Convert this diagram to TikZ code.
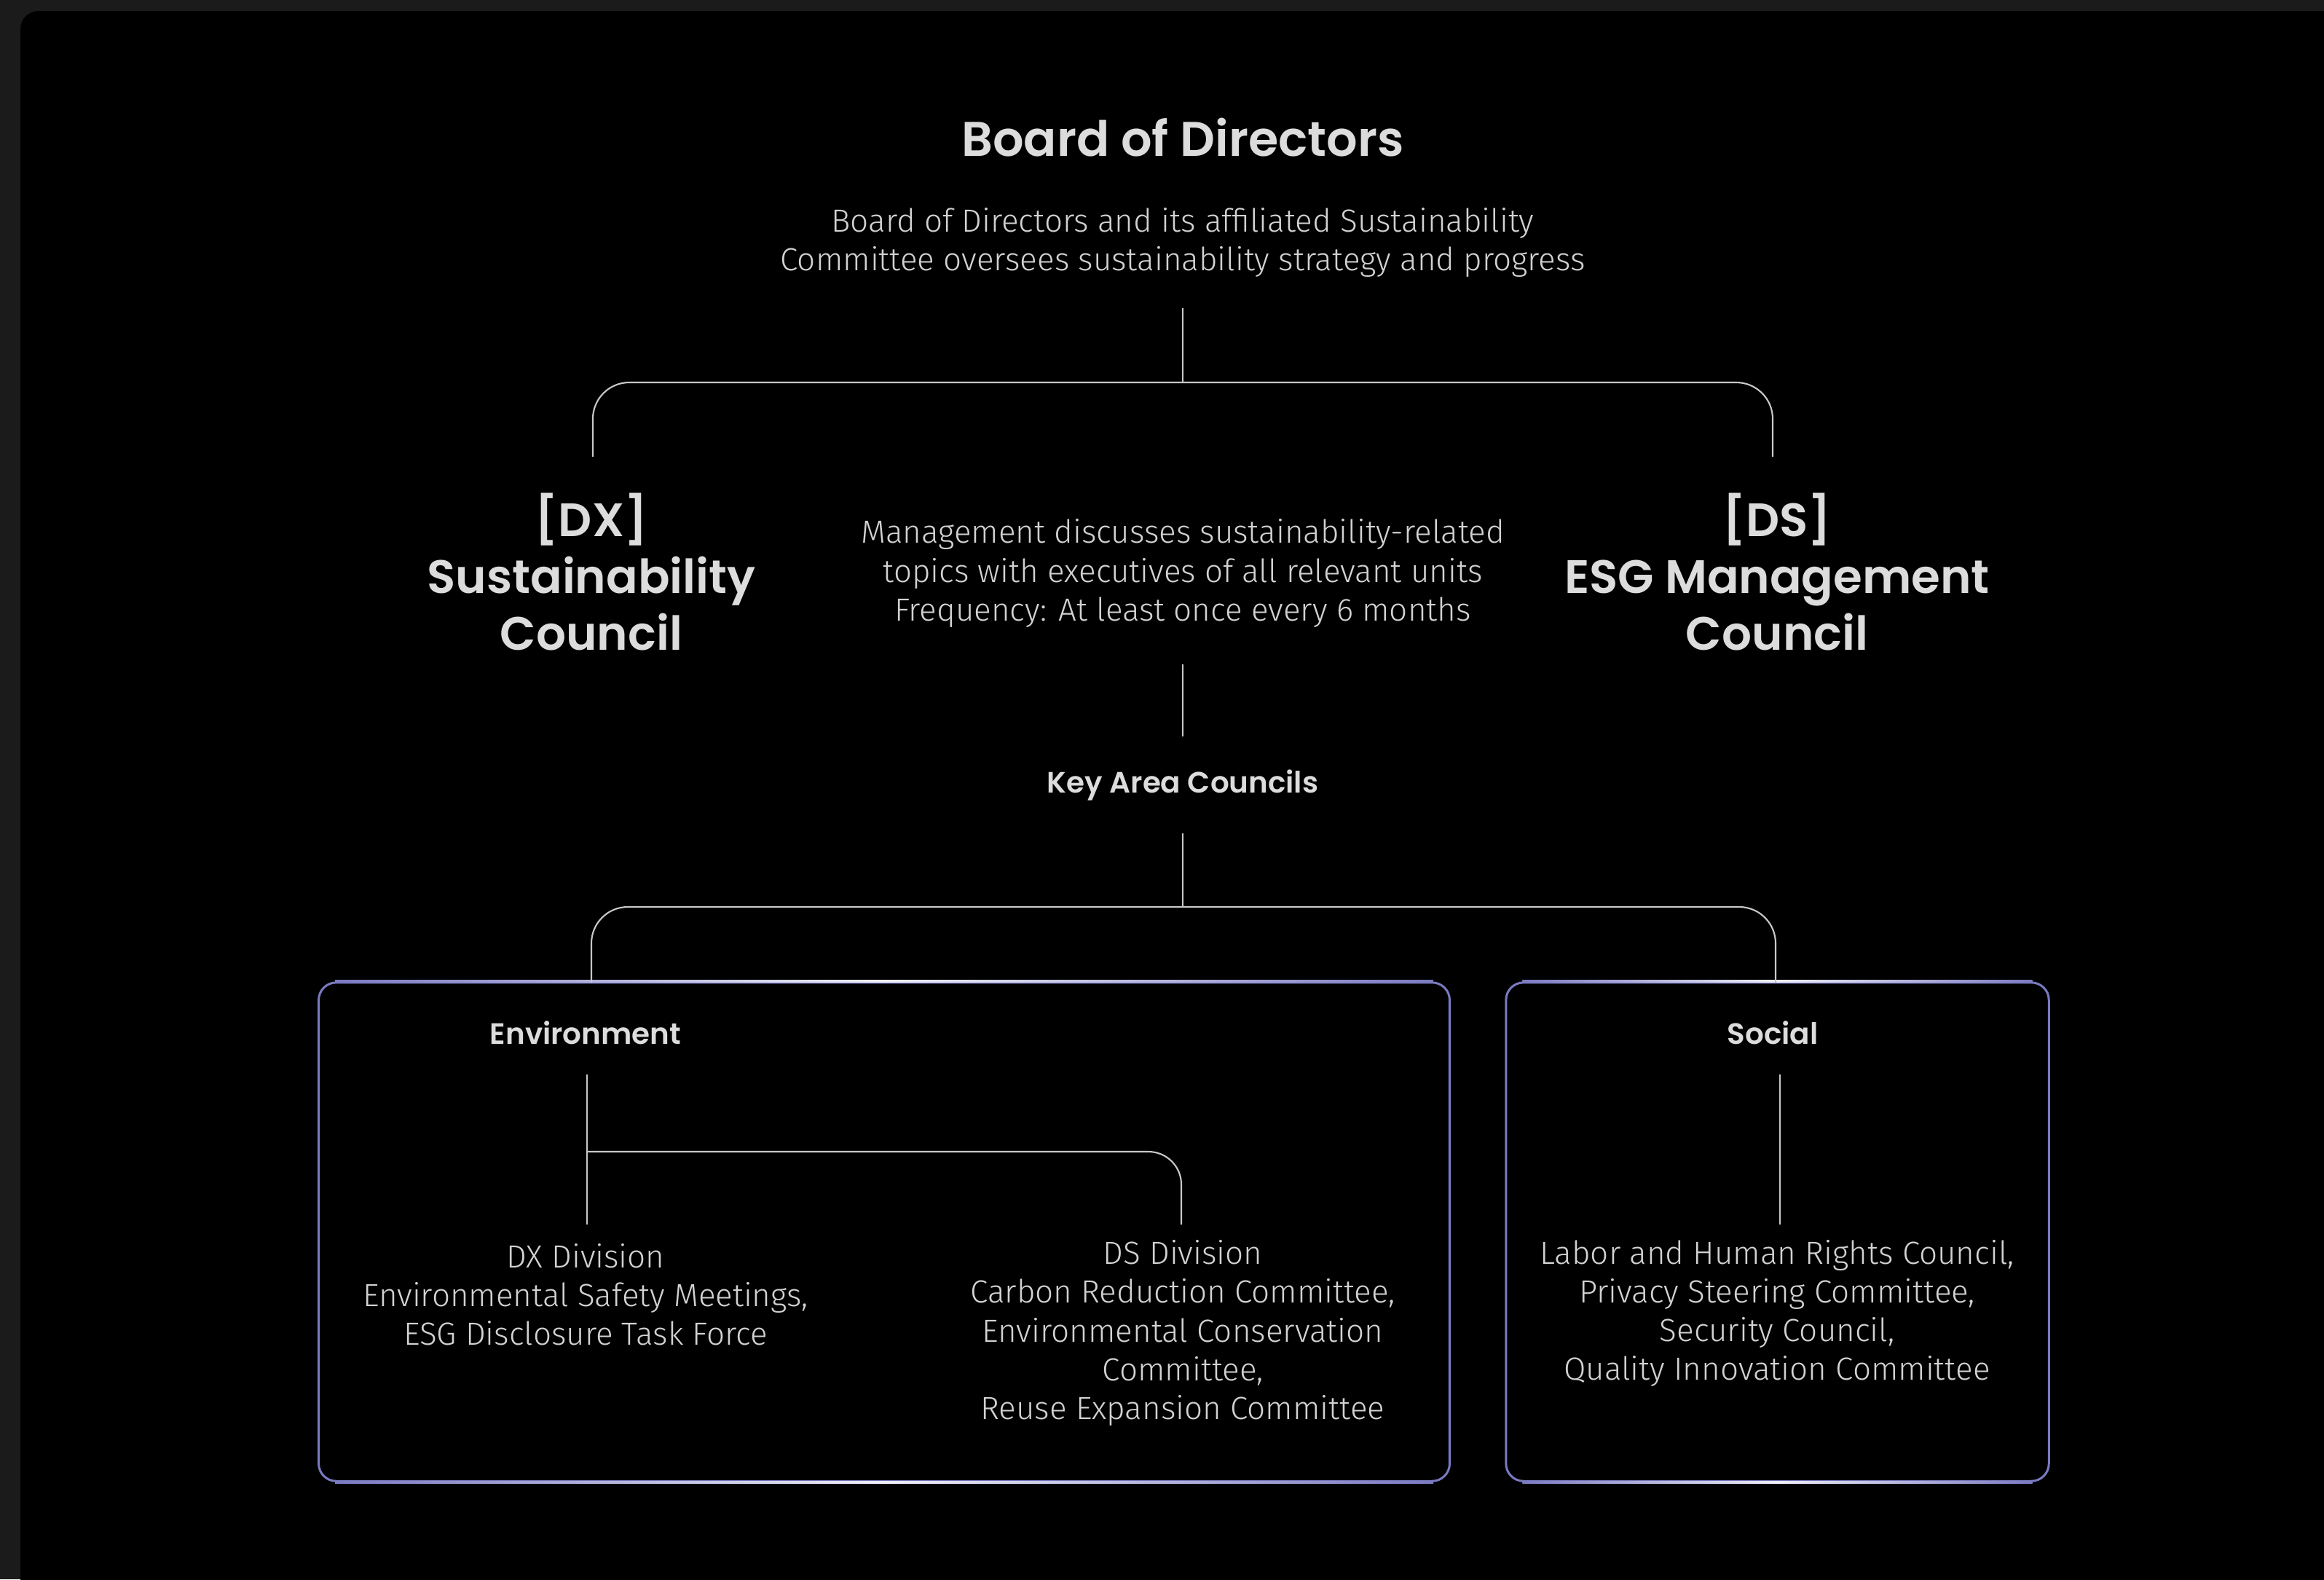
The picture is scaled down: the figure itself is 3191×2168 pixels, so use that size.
\documentclass[tikz,border=0pt]{standalone}
\usepackage{fontspec}
\newfontfamily\headfont{Poppins SemiBold}
\newfontfamily\bodyfont{Fira Sans Light}
\definecolor{framegray}{HTML}{1B1B1B}
\definecolor{txt}{HTML}{DCDCDC}
\definecolor{bodytxt}{HTML}{D2D2D2}
\definecolor{connc}{HTML}{C8C8C8}
\definecolor{pur}{HTML}{7A7AC2}
\begin{document}
\begin{tikzpicture}[x=0.01cm,y=-0.01cm,
  conn/.style={draw=connc, line width=0.6pt},
  titlestyle/.style={font=\headfont\fontsize{19}{22}\selectfont, text=txt, inner sep=0, align=center},
  council/.style={font=\headfont\fontsize{18.3}{22.2}\selectfont, text=txt, inner sep=0, align=center},
  subhead/.style={font=\headfont\fontsize{11.5}{14}\selectfont, text=txt, inner sep=0},
  bodytext/.style={font=\bodyfont\fontsize{12.5}{15.1}\selectfont, text=bodytxt, inner sep=0, align=center},
  area/.style={draw=pur, line width=0.85pt, rounded corners=0.24cm, inner sep=0, minimum height=6.84cm},
  edgeshade/.style={left color=pur, right color=pur, middle color=white!88!pur}
]
\clip (0,0) rectangle (3191,2168);
\fill[framegray] (0,0) rectangle (3191,2168);
\fill[black, rounded corners=0.25cm] (28,2300) -- (28,15) -- (3300,15) -- (3300,2300) -- cycle;

% texts
\node[titlestyle] (bod) at (1624,189) {Board of Directors};
\node[bodytext] (boddesc) at (1624,333) {Board of Directors and its affiliated Sustainability\\Committee oversees sustainability strategy and progress};
\node[council] (dx) at (812,785) {[DX]\\Sustainability\\Council};
\node[council] (ds) at (2440,785) {[DS]\\ESG Management\\Council};
\node[bodytext] (mgmt) at (1624,787) {Management discusses sustainability-related\\topics with executives of all relevant units\\Frequency: At least once every 6 months};
\node[subhead] (kac) at (1624,1078) {Key Area Councils};

% boxes
\node[area, minimum width=15.52cm] (envbox) at (1214,1691) {};
\node[area, minimum width=7.45cm] (socbox) at (2440.5,1691) {};
\foreach \b in {envbox,socbox}{
  \shade[edgeshade] ([xshift=0.24cm,yshift=0.015cm]\b.north west) rectangle ([xshift=-0.24cm,yshift=-0.015cm]\b.north east);
  \shade[edgeshade] ([xshift=0.24cm,yshift=0.015cm]\b.south west) rectangle ([xshift=-0.24cm,yshift=-0.015cm]\b.south east);
}

\node[subhead] (env) at (804,1418) {Environment};
\node[subhead] (soc) at (2434,1418) {Social};
\node[bodytext] (dxdiv) at (804,1777) {DX Division\\Environmental Safety Meetings,\\ESG Disclosure Task Force};
\node[bodytext] (dsdiv) at (1624,1830) {DS Division\\Carbon Reduction Committee,\\Environmental Conservation\\Committee,\\Reuse Expansion Committee};
\node[bodytext] (soctxt) at (2440,1803) {Labor and Human Rights Council,\\Privacy Steering Committee,\\Security Council,\\Quality Innovation Committee};

% connectors
\coordinate (c1a) at (1624,423);
\coordinate (c1b) at (1624,525);
\coordinate (dxtop) at (814,627);
\coordinate (dstop) at (2434,627);
\draw[conn] (c1a) -- (c1b);
\draw[conn, rounded corners=0.5cm] (dxtop) -- (dxtop |- c1b) -- (dstop |- c1b) -- (dstop);

\coordinate (c2a) at (1624,912);
\coordinate (c2b) at (1624,1011);
\draw[conn] (c2a) -- (c2b);

\coordinate (c3a) at (1624,1144);
\coordinate (c3b) at (1624,1245);
\coordinate (envtop) at (812,1349);
\coordinate (soctop) at (2438,1349);
\draw[conn] (c3a) -- (c3b);
\draw[conn, rounded corners=0.5cm] (envtop) -- (envtop |- c3b) -- (soctop |- c3b) -- (soctop);

\coordinate (e1) at (806,1475);
\coordinate (e2) at (806,1681);
\coordinate (ej) at (806,1581);
\coordinate (e3) at (1622,1681);
\draw[conn] (e1) -- (e2);
\draw[conn, rounded corners=0.45cm] (ej) -- (ej -| e3) -- (e3);

\coordinate (s1) at (2444,1475);
\coordinate (s2) at (2444,1681);
\draw[conn] (s1) -- (s2);
\end{tikzpicture}
\end{document}
